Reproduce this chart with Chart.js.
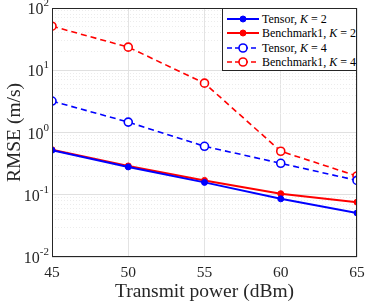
<!DOCTYPE html>
<html>
<head>
<meta charset="utf-8">
<script src="https://cdn.jsdelivr.net/npm/chart.js@4.4.1/dist/chart.umd.min.js"></script>
<style>
  html, body { margin: 0; padding: 0; background: #fff; }
  #wrap { position: relative; width: 366px; height: 305px; }
  #legend {
    position: absolute; left: 222px; top: 8px; width: 135px; height: 63px;
    border: 1px solid #262626; background: #fff; box-sizing: border-box;
    font-family: 'Liberation Serif', 'Times New Roman', serif; font-size: 12px; color: #000;
  }
  .row { position: absolute; left: 0; height: 14px; line-height: 14px; white-space: nowrap; }
  .row svg { position: absolute; left: 3px; top: 0; }
  .row span { position: absolute; left: 39px; top: 0; }
</style>
</head>
<body>
<div id="wrap">
  <canvas id="myChart" width="366" height="305"></canvas>
  <div id="legend"></div>
</div>
<script>
var power = [45, 50, 55, 60, 65];
var tensorK2 = [0.52, 0.28, 0.158, 0.086, 0.051];
var benchK2 = [0.53, 0.29, 0.17, 0.104, 0.076];
var tensorK4 = [3.2, 1.47, 0.6, 0.32, 0.17];
var benchK4 = [51, 23.5, 6.2, 0.5, 0.2];
var yTicks = [0.01, 0.1, 1, 10, 100];
var yTickExp = ['-2', '-1', '0', '1', '2'];
var seriesNames = ['Tensor', 'Benchmark1', 'Tensor', 'Benchmark1'];
var seriesK = [2, 2, 4, 4];

var serif = "'Liberation Serif', 'Times New Roman', serif";

function pts(arr) {
    return arr.map(function(v, i) { return { x: power[i], y: v }; });
}

// all minor + major log ticks between 1e-2 and 1e2
function logTicks() {
    var t = [];
    for (var e = -2; e < 2; e++) {
        for (var m = 1; m < 10; m++) t.push({ value: m * Math.pow(10, e) });
    }
    t.push({ value: 100 });
    return t;
}

function isMajor(v) {
    return yTicks.some(function(d) { return Math.abs(v - d) / d < 1e-6; });
}

// axes box + 10^n labels with real superscripts
var boxPlugin = {
    id: 'box',
    afterDatasetsDraw: function(chart) {
        var a = chart.chartArea, c = chart.ctx;
        c.save();
        c.strokeStyle = '#262626';
        c.lineWidth = 1;
        c.strokeRect(a.left + 0.5, a.top + 0.5, a.right - a.left - 1, a.bottom - a.top - 1);

        var ys = chart.scales.y;
        c.fillStyle = '#262626';
        c.textBaseline = 'alphabetic';
        c.textAlign = 'left';
        yTicks.forEach(function(v, i) {
            var py = ys.getPixelForValue(v);
            c.font = '16px ' + serif;
            var w1 = c.measureText('10').width;
            c.font = '11px ' + serif;
            var w2 = c.measureText(yTickExp[i]).width;
            var x0 = 49 - w1 - w2;
            c.font = '16px ' + serif;
            c.fillText('10', x0, py + 6);
            c.font = '11px ' + serif;
            c.fillText(yTickExp[i], x0 + w1, py - 2);
        });
        c.restore();
    }
};

var ctx = document.getElementById('myChart').getContext('2d');
var myChart = new Chart(ctx, {
    type: 'line',
    data: {
        datasets: [
            { data: pts(tensorK2), borderColor: '#0000ff', backgroundColor: '#0000ff', borderWidth: 2, pointRadius: 3, pointBorderWidth: 1 },
            { data: pts(benchK2), borderColor: '#ff0000', backgroundColor: '#ff0000', borderWidth: 2, pointRadius: 3, pointBorderWidth: 1 },
            { data: pts(tensorK4), borderColor: '#0000ff', backgroundColor: '#ffffff', borderWidth: 1.6, borderDash: [6, 4], pointRadius: 4, pointBorderWidth: 1.6 },
            { data: pts(benchK4), borderColor: '#ff0000', backgroundColor: '#ffffff', borderWidth: 1.6, borderDash: [6, 4], pointRadius: 4, pointBorderWidth: 1.6 }
        ]
    },
    options: {
        animation: false,
        responsive: false,
        layout: { padding: { top: 8, right: 9, left: 0, bottom: 0 } },
        plugins: { legend: { display: false }, tooltip: { enabled: false } },
        scales: {
            x: {
                type: 'linear', min: 45, max: 65,
                ticks: { stepSize: 5, maxRotation: 0, color: '#262626', padding: 7, font: { family: serif, size: 15.5 } },
                grid: { color: '#e3e3e3', drawTicks: false },
                border: { display: false },
                title: { display: true, text: 'Transmit power (dBm)', color: '#262626', padding: { top: 0, bottom: 1 }, font: { family: serif, size: 19.5 } },
                afterFit: function(s) { s.height = 48; s.paddingLeft = 0; s.paddingRight = 0; }
            },
            y: {
                type: 'logarithmic', min: 0.01, max: 100,
                afterBuildTicks: function(s) { s.ticks = logTicks(); },
                ticks: { autoSkip: false, callback: function() { return ''; } },
                grid: {
                    drawTicks: false,
                    color: function(c) { return isMajor(c.tick.value) ? '#e0e0e0' : '#ececec'; }
                },
                border: {
                    display: false,
                    dash: function(c) { return c.tick && isMajor(c.tick.value) ? [] : [1, 2]; }
                },
                title: { display: true, text: 'RMSE (m/s)', color: '#262626', padding: { top: 3, bottom: 0 }, font: { family: serif, size: 19.5 } },
                afterFit: function(s) { s.width = 52; s.paddingTop = 0; s.paddingBottom = 0; }
            }
        }
    },
    plugins: [boxPlugin]
});

// legend built from the dataset styles
var legend = document.getElementById('legend');
myChart.data.datasets.forEach(function(ds, i) {
    var row = document.createElement('div');
    row.className = 'row';
    row.style.top = (3 + i * 14.3) + 'px';
    var dash = ds.borderDash ? ' stroke-dasharray="5 3"' : '';
    row.innerHTML =
        '<svg width="34" height="14"><line x1="1" y1="7" x2="33" y2="7" stroke="' + ds.borderColor +
        '" stroke-width="' + ds.borderWidth + '"' + dash + '/>' +
        '<circle cx="17" cy="7" r="' + ds.pointRadius + '" fill="' + ds.backgroundColor +
        '" stroke="' + ds.borderColor + '" stroke-width="' + ds.pointBorderWidth + '"/></svg>' +
        '<span>' + seriesNames[i] + ', <i>K</i> = ' + seriesK[i] + '</span>';
    legend.appendChild(row);
});
</script>
</body>
</html>
